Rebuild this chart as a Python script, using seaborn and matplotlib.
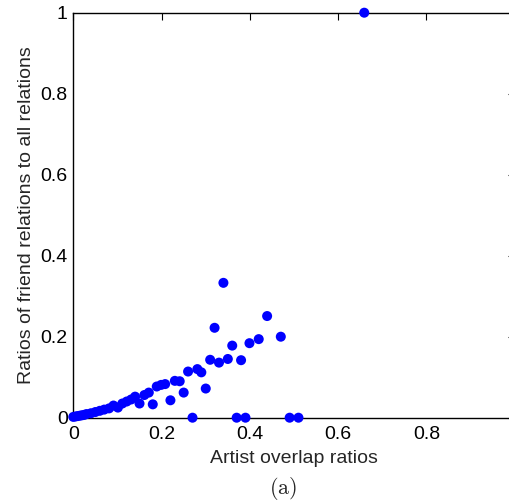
import matplotlib
matplotlib.use("Agg")
import matplotlib.pyplot as plt
import seaborn as sns
import pandas as pd

overlap = [0.000, 0.005, 0.010, 0.015, 0.020, 0.025, 0.030, 0.040, 0.050, 0.060,
           0.070, 0.081, 0.091, 0.101, 0.111, 0.121, 0.131, 0.140, 0.150, 0.161,
           0.171, 0.180, 0.189, 0.199, 0.208, 0.220, 0.230, 0.241, 0.250, 0.260,
           0.270, 0.281, 0.290, 0.300, 0.310, 0.320, 0.330, 0.340, 0.350, 0.360,
           0.370, 0.380, 0.390, 0.399, 0.420, 0.439, 0.470, 0.490, 0.510, 0.659]
friend = [0.002, 0.003, 0.004, 0.005, 0.006, 0.007, 0.009, 0.011, 0.014, 0.017,
          0.020, 0.023, 0.030, 0.025, 0.035, 0.040, 0.045, 0.052, 0.035, 0.056,
          0.062, 0.033, 0.077, 0.081, 0.083, 0.043, 0.091, 0.090, 0.062, 0.114,
          0.000, 0.120, 0.112, 0.072, 0.143, 0.222, 0.136, 0.333, 0.145, 0.178,
          0.000, 0.142, 0.000, 0.184, 0.194, 0.251, 0.200, 0.000, 0.000, 1.000]

xticks = [0, 0.2, 0.4, 0.6, 0.8]
xticklabels = ["0", "0.2", "0.4", "0.6", "0.8"]
yticks = [0, 0.2, 0.4, 0.6, 0.8, 1.0]
yticklabels = ["0", "0.2", "0.4", "0.6", "0.8", "1"]

sns.set_style("white")
plt.rcParams['font.family'] = ['Liberation Sans', 'DejaVu Sans']
plt.rcParams['mathtext.fontset'] = 'cm'

df = pd.DataFrame({"overlap": overlap, "friend": friend})

fig = plt.figure(figsize=(5.10, 5.03), dpi=100)
ax = fig.add_axes([73.3/510, 1 - 417.7/503, (514.8 - 73.3)/510, (417.7 - 12.7)/503])

sns.scatterplot(data=df, x="overlap", y="friend", ax=ax, color=(0, 0, 1),
                s=52, edgecolor='none', linewidth=0, clip_on=False, zorder=3)

ax.set_xlim(0, 1)
ax.set_ylim(0, 1)
ax.set_xticks(xticks)
ax.set_xticklabels(xticklabels)
ax.set_yticks(yticks)
ax.set_yticklabels(yticklabels)
for sp in ax.spines.values():
    sp.set_visible(True)
    sp.set_color('black')
    sp.set_linewidth(1.0)
ax.tick_params(direction='in', length=5, width=0.8, top=True, right=True,
               labelsize=14, colors='black')
ax.tick_params(axis='x', pad=6)
ax.tick_params(axis='y', pad=4)
ax.set_xlabel("Artist overlap ratios", fontsize=14, labelpad=5)
ax.set_ylabel("Ratios of friend relations to all relations", fontsize=14, labelpad=4)
fig.text(283/510, 1 - 488/503, r"$\mathrm{(a)}$", ha='center', va='center', fontsize=16)

fig.savefig("out.png", dpi=100)
